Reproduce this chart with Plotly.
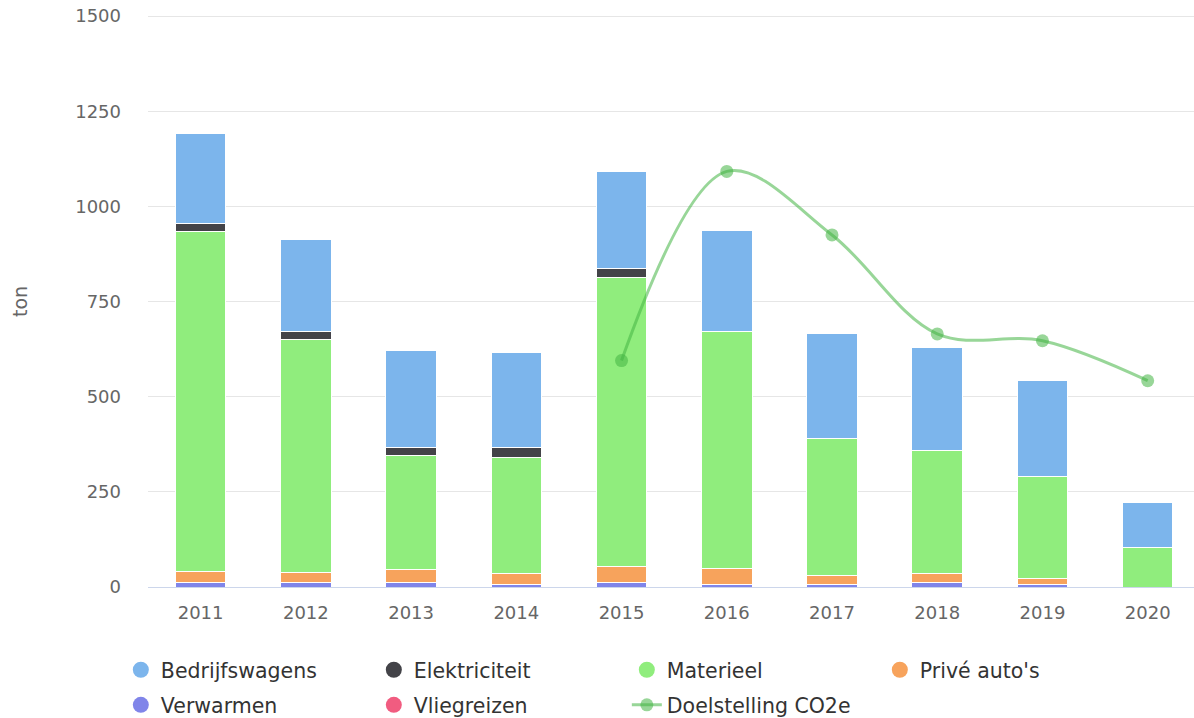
import plotly.graph_objects as go

years = ["2011", "2012", "2013", "2014", "2015", "2016", "2017", "2018", "2019", "2020"]

bedrijfswagens = [236, 241, 254, 249, 254, 267, 275, 270, 251, 118]
elektriciteit = [23, 21, 21, 26, 26, 0, 0, 0, 0, 0]
materieel = [893, 611, 301, 306, 759, 623, 359, 323, 269, 105]
prive_autos = [28, 27, 33, 29, 41, 42, 25, 24, 16, 0]
verwarmen = [12, 12, 12, 6, 12, 6, 6, 12, 6, 0]
vliegreizen = [0, 0, 0, 0, 0, 0, 0, 0, 0, 0]
doelstelling = [None, None, None, None, 595, 1092, 925, 665, 647, 542]

y_ticks = [0, 250, 500, 750, 1000, 1250, 1500]

FONT = "DejaVu Sans, sans-serif"

# Highcharts-like palette; legend row per entry
series = [
    ("Bedrijfswagens", bedrijfswagens, "#7cb5ec", "legend"),
    ("Elektriciteit", elektriciteit, "#434348", "legend"),
    ("Materieel", materieel, "#90ed7d", "legend"),
    ("Privé auto's", prive_autos, "#f7a35c", "legend"),
    ("Verwarmen", verwarmen, "#8085e9", "legend2"),
    ("Vliegreizen", vliegreizen, "#f15c80", "legend2"),
]

fig = go.Figure()

# stack bottom-up: last series sits at the bottom
for name, vals, color, _ in reversed(series):
    fig.add_trace(
        go.Bar(
            x=years,
            y=vals,
            name=name,
            marker=dict(color=color, line=dict(color="white", width=1)),
            width=0.48,
            showlegend=False,
        )
    )

# legend entries with round symbols
for name, vals, color, leg in series:
    fig.add_trace(
        go.Scatter(
            x=[None],
            y=[None],
            mode="markers",
            name=name,
            legend=leg,
            marker=dict(color=color, size=20, symbol="circle"),
        )
    )

fig.add_trace(
    go.Scatter(
        x=years,
        y=doelstelling,
        name="Doelstelling CO2e",
        legend="legend2",
        mode="lines+markers",
        line=dict(color="rgba(67,180,67,0.55)", width=3, shape="spline", smoothing=1),
        marker=dict(color="rgba(67,180,67,0.55)", size=13),
    )
)

legend_style = dict(
    orientation="h",
    xref="container",
    yref="container",
    x=0.1012,
    xanchor="left",
    yanchor="top",
    entrywidth=208,
    font=dict(size=20.5, color="#333333", family=FONT),
    traceorder="normal",
)

fig.update_layout(
    width=1194,
    height=718,
    barmode="stack",
    paper_bgcolor="white",
    plot_bgcolor="white",
    font=dict(family=FONT, size=18, color="#666666"),
    margin=dict(l=148, r=0, t=15, b=131, autoexpand=False),
    xaxis=dict(
        type="category",
        range=[-0.5, 9.44],
        showgrid=False,
        showline=True,
        linecolor="#ccd6eb",
        linewidth=1,
        ticks="",
        automargin=False,
        ticklabelstandoff=9,
        tickfont=dict(size=18, color="#666666"),
    ),
    yaxis=dict(
        range=[0, 1503],
        tickvals=y_ticks,
        showgrid=True,
        gridcolor="#e6e6e6",
        gridwidth=1,
        zeroline=False,
        automargin=False,
        ticklabeloverflow="allow",
        tickfont=dict(size=18, color="#666666"),
        ticklabelstandoff=26,
    ),
    annotations=[
        dict(
            text="ton",
            xref="paper",
            yref="paper",
            x=-0.1224,
            y=0.5,
            xanchor="center",
            yanchor="middle",
            textangle=-90,
            showarrow=False,
            font=dict(size=19, color="#666666"),
        )
    ],
    legend=dict(legend_style, y=0.0948),
    legend2=dict(legend_style, y=0.046),
    showlegend=True,
)

# drop the default page margin so the figure fills the window exactly
fig.write_html(
    "out.html",
    config={"displayModeBar": False},
    post_script="document.body.style.margin='0';",
)
